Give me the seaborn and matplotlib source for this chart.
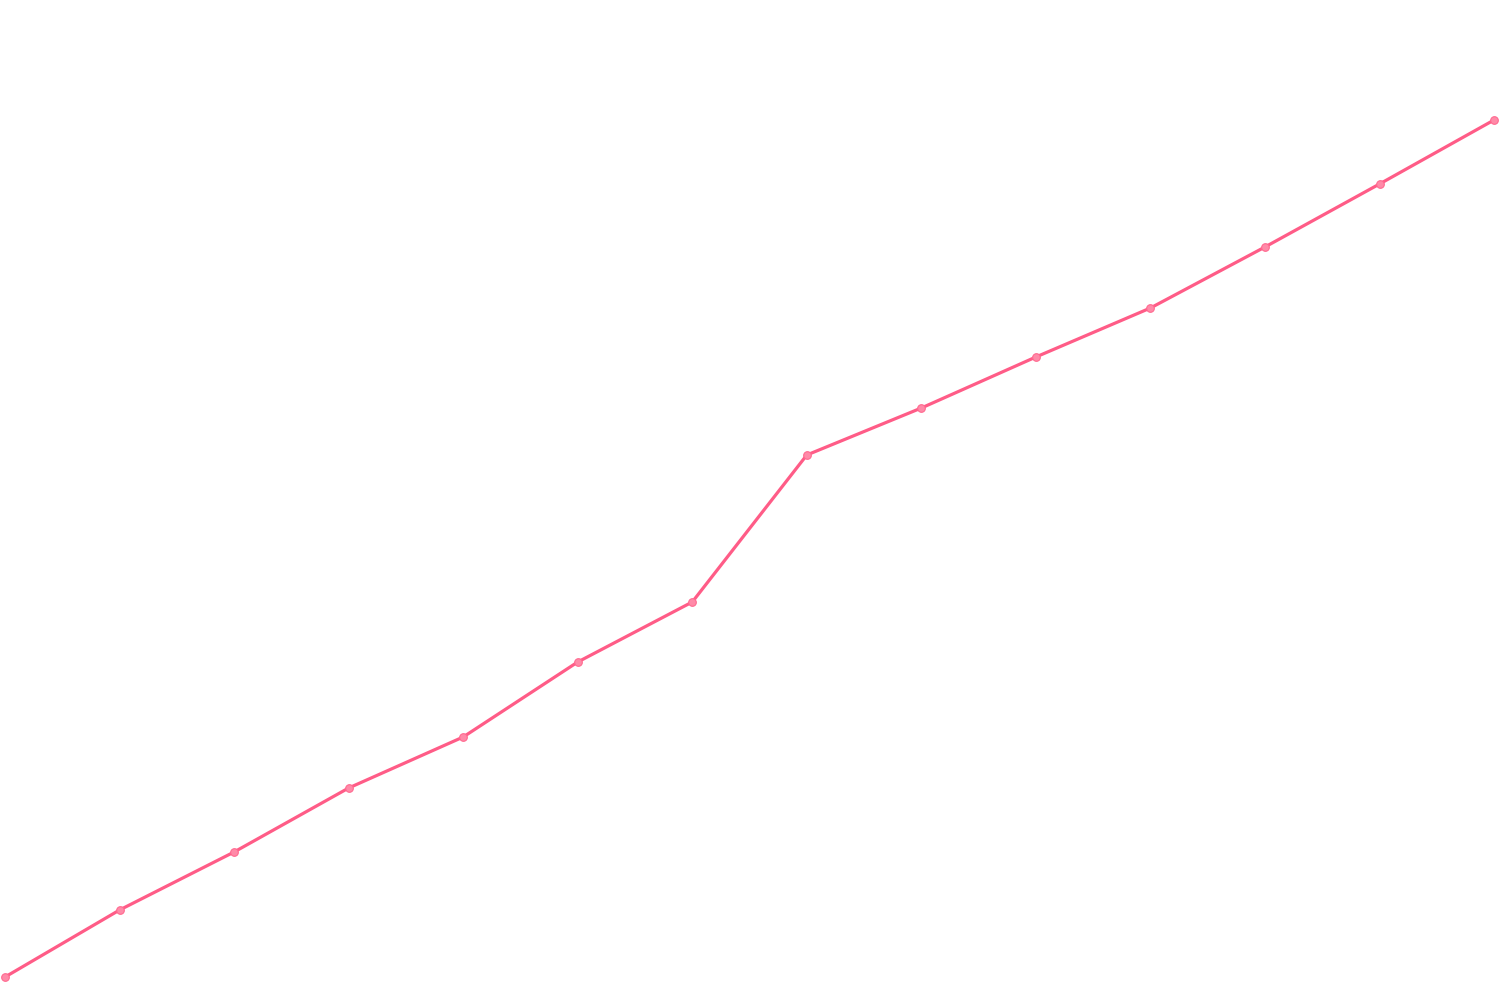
import matplotlib
matplotlib.use("Agg")
import matplotlib.pyplot as plt
import pandas as pd
import seaborn as sns

# values
steps = list(range(14))
values = [2.3, 9.0, 14.8, 21.2, 26.3, 33.8, 39.8, 54.5, 59.2, 64.3, 69.2, 75.3, 81.6, 88.0]

df = pd.DataFrame({"step": steps, "value": values})

sns.set_style("white")
fig = plt.figure(figsize=(15, 10), dpi=100)
ax = fig.add_axes([0, 0, 1, 1])

sns.lineplot(
    data=df, x="step", y="value", ax=ax,
    color="#ff5c87", linewidth=2.3,
    marker="o", markersize=5.5,
    markerfacecolor="#ff8aa8", markeredgecolor="#ff6a90", markeredgewidth=0.8,
)

ax.set_xlim(-0.044, 13.052)
ax.set_ylim(0, 100)
ax.set_axis_off()

fig.savefig("out.png", dpi=100, facecolor="white")
